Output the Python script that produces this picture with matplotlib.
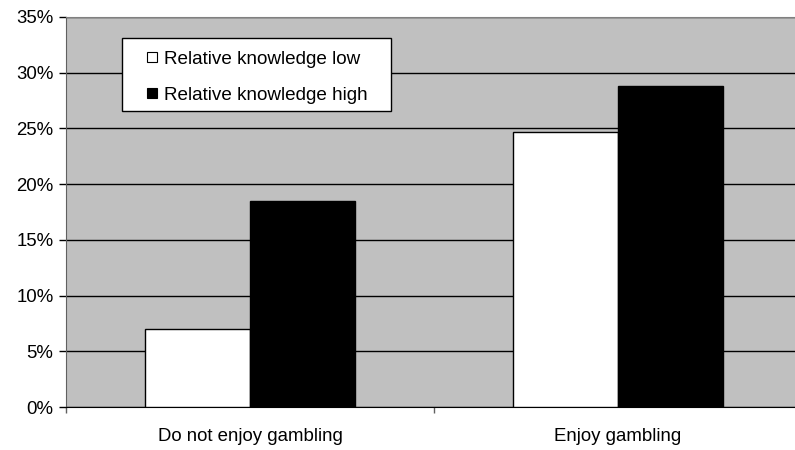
import matplotlib.pyplot as plt
from matplotlib.patches import Rectangle
from matplotlib.ticker import FuncFormatter

# Share of respondents, by enjoyment of gambling and relative knowledge
categories = ["Do not enjoy gambling", "Enjoy gambling"]
knowledge_low = [7.0, 24.7]
knowledge_high = [18.5, 28.8]
series_names = ["Relative knowledge low", "Relative knowledge high"]
series_colors = ["white", "black"]

plt.rcParams['font.family'] = ['Liberation Sans', 'DejaVu Sans']
fs = 13.4

W, H = 795, 450
fig = plt.figure(figsize=(W / 100, H / 100), dpi=100)
# plot area runs a little past the right edge of the figure
ax = fig.add_axes([66 / W, 43 / H, 736 / W, 390 / H])
ax.set_facecolor('#c0c0c0')

bw = 0.286
centers = [0.5, 1.5]
ax.bar([c - bw / 2 for c in centers], knowledge_low, width=bw,
       color=series_colors[0], edgecolor='black', linewidth=1, zorder=3)
ax.bar([c + bw / 2 for c in centers], knowledge_high, width=bw,
       color=series_colors[1], edgecolor='black', linewidth=1, zorder=3)

ax.set_xlim(0, 2)
ax.set_ylim(0, 35)
ax.set_yticks(range(0, 36, 5))
ax.yaxis.set_major_formatter(FuncFormatter(lambda v, p: f"{int(v)}%"))
ax.grid(axis='y', color='black', linewidth=1, zorder=1)
ax.set_axisbelow(True)

# category boundaries as ticks, names centred between them
ax.set_xticks([0, 1, 2])
ax.set_xticklabels([])
ax.set_xticks(centers, minor=True)
ax.set_xticklabels(categories, minor=True)
ax.tick_params(axis='x', which='major', direction='out', length=4,
               width=1, color='#606060')
ax.tick_params(axis='x', which='minor', length=0, pad=15, labelsize=fs)
ax.tick_params(axis='y', direction='out', length=5, width=1,
               color='black', labelsize=fs, pad=4)

for side in ['top', 'right']:
    ax.spines[side].set_color('#808080')
ax.spines['left'].set_color('#606060')
ax.spines['bottom'].set_color('black')


# legend box laid out in pixel positions (y measured from the top)
def fx(px):
    return px / W


def fy(py):
    return 1 - py / H


fig.add_artist(Rectangle((fx(122), fy(111)), fx(391) - fx(122),
                         fy(38) - fy(111), transform=fig.transFigure,
                         facecolor='white', edgecolor='black',
                         linewidth=1, zorder=5))
for row_y, name, col in zip([57, 93], series_names, series_colors):
    fig.add_artist(Rectangle((fx(147), fy(row_y + 5)), fx(157) - fx(147),
                             fy(row_y - 5) - fy(row_y + 5),
                             transform=fig.transFigure, facecolor=col,
                             edgecolor='black', linewidth=0.8, zorder=6))
    fig.text(fx(164), fy(row_y), name, fontsize=13.6, ha='left',
             va='center_baseline', zorder=6)

fig.savefig('out.png', dpi=100)
